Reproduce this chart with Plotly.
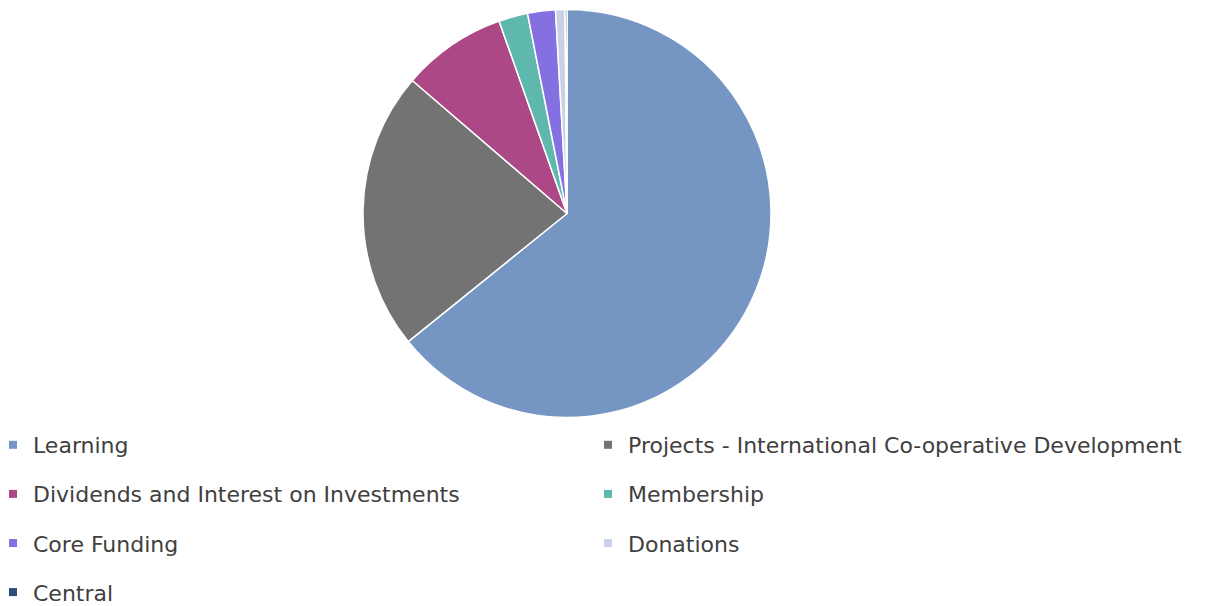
import plotly.graph_objects as go

labels = ["Learning", "Projects - International Co-operative Development",
          "Dividends and Interest on Investments", "Membership",
          "Core Funding", "Donations", "Central"]
values = [64.2, 22.1, 8.3, 2.3, 2.2, 0.75, 0.15]
colors = ["#7596C3", "#737373", "#AD4886", "#5EB8AE", "#8470E0", "#C8D1E6", "#2E4D7A"]

W, H = 1208, 606
fig = go.Figure()
fig.add_trace(go.Pie(
    labels=labels, values=values, sort=False, direction="clockwise", rotation=0,
    marker=dict(colors=colors, line=dict(color="white", width=1.5)),
    textinfo="none", hoverinfo="label+percent", showlegend=False,
    domain=dict(x=[363 / W, 771 / W], y=[1 - 417.5 / H, 1 - 9.5 / H]),
))

# left column: items 0,2,4,6 ; right column: items 1,3,5
for i, (lab, col) in enumerate(zip(labels, colors)):
    fig.add_trace(go.Scatter(
        x=[None], y=[None], mode="markers", name=lab, legendgroup=lab,
        marker=dict(symbol="square", size=8, color=col),
        legend="legend" if i % 2 == 0 else "legend2", hoverinfo="skip",
    ))

font = dict(family="DejaVu Sans", size=22, color="#404040")
legend_common = dict(orientation="v", xanchor="left", yanchor="top",
                     font=font, tracegroupgap=17.5, bgcolor="rgba(0,0,0,0)",
                     itemclick=False, itemdoubleclick=False)

fig.update_layout(
    width=W, height=H, margin=dict(l=0, r=0, t=0, b=0, autoexpand=False),
    paper_bgcolor="white", plot_bgcolor="white",
    xaxis=dict(visible=False), yaxis=dict(visible=False),
    legend=dict(legend_common, x=-7 / W, y=1 - 424 / H),
    legend2=dict(legend_common, x=588 / W, y=1 - 424 / H),
)
fig.write_html("out.html")
